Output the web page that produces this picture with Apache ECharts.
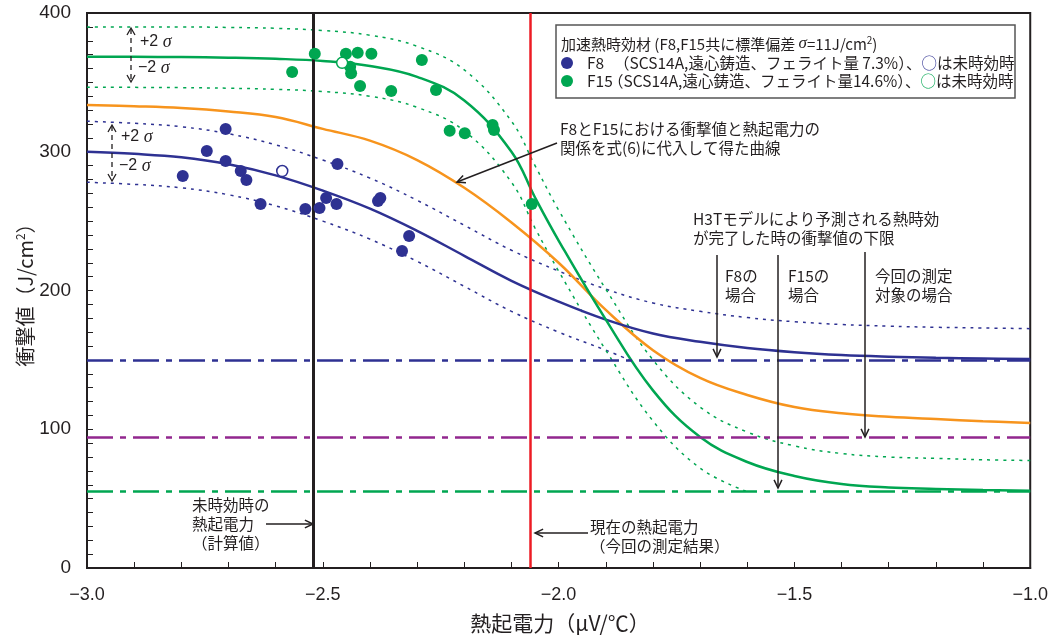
<!DOCTYPE html>
<html><head><meta charset="utf-8">
<script src="https://cdn.jsdelivr.net/npm/echarts@6/dist/echarts.min.js"></script>
<style>html,body{margin:0;padding:0;background:#fff}#c{width:1051px;height:638px}</style>
</head><body><div id="c"></div>
<script>
// ---- data ----
const xs = [-3.0,-2.9,-2.8,-2.7,-2.6,-2.5,-2.4,-2.3,-2.2,-2.1,-2.0,-1.9,-1.8,-1.7,-1.6,-1.5,-1.4,-1.3,-1.2,-1.1,-1.0];
const blueMean  = [300,298.5,296,291,283,272,259,243,225,207,192,179,169,163,158.5,155.5,153.5,152.3,151.5,151,150.6];
const blueUpper = [322,320.5,318,313,305,294,281,265,247,229,214,201,191,185,180.5,177.5,175.5,174.3,173.5,173,172.5];
const blueLowerX = [-3.0,-2.9,-2.8,-2.7,-2.6,-2.5,-2.4,-2.3,-2.2,-2.1,-2.0,-1.9,-1.85];
const blueLower = [278,276.5,274,269,261,250,237,221,203,185,170,157,150];
const greenX = [-3.0,-2.9,-2.8,-2.7,-2.6,-2.5,-2.4,-2.3,-2.2,-2.1,-2.05,-2.0,-1.9,-1.8,-1.7,-1.6,-1.5,-1.4,-1.3,-1.2,-1.1,-1.0];
const greenMean  = [368.5,368.4,368.2,367.8,367,365.4,361.8,354,337,300,267,236,179,128,94.4,76.4,66.3,60.5,58,57,56.2,55.7];
const greenUpper = [390,390,390,389.6,389,387.4,384,376,359,322,290,258,201,150,116,98,88,82.5,80,79,78,77.5];
const greenLowerX = [-3.0,-2.9,-2.8,-2.7,-2.6,-2.5,-2.4,-2.3,-2.2,-2.1,-2.05,-2.0,-1.9,-1.8,-1.7,-1.6];
const greenLower = [346.5,346.4,346.2,345.8,345,343.4,340,332,315,278,245,214,157,106,72,55];
const orangeCurve = [333.7,332.8,331.5,329,325,316.5,308,294,274,249,220,186,157,137,124.7,116,111.5,109,107.3,105.8,104.5];
const f8X = [-2.797,-2.746,-2.706,-2.706,-2.674,-2.662,-2.632,-2.537,-2.507,-2.493,-2.471,-2.469,-2.383,-2.378,-2.317,-2.332];
const f8Y = [282.5,300.5,316.4,293.3,286.1,279.6,262.3,258.7,259.5,266.7,262.3,291.2,264.5,266.7,239.3,228.5];
const f8UnagedX = [-2.586];
const f8UnagedY = [286.1];
const f15X = [-2.565,-2.517,-2.451,-2.426,-2.397,-2.442,-2.440,-2.421,-2.355,-2.290,-2.260,-2.231,-2.199,-2.140,-2.137,-2.057];
const f15Y = [357.5,370.7,370.7,371.4,370.7,361.3,356.5,347.4,343.8,366.1,344.5,315.2,313.3,319.3,315.7,262.3];
const f15UnagedX = [-2.459];
const f15UnagedY = [364.1];
const vLines = [-2.52, -2.06];       // black: unaged (calc), red: current
const hLines = [150, 94, 55];        // lower limits: F8, this case, F15
const xTicks = {min:-3, max:-1, interval:0.5};
const yTicks = {min:0, max:400, interval:100};

// ---- style ----
const C = {blue:'#2e3192', green:'#00a651', orange:'#f7941d', red:'#ed1c24', black:'#231f20', purple:'#92278f'};
const JP = '"Noto Sans CJK JP", "Noto Sans", sans-serif';
const pairs = (a,b)=>a.map((x,i)=>[x,b[i]]);

function lineSeries(x, y, color, width, type, z){
  return {type:'line', data:pairs(x,y), smooth:0.4, showSymbol:false, symbol:'none', silent:true, z:z||2,
    lineStyle:{color:color, width:width, type:type||'solid'}};
}
function arrowG(x1,y1,x2,y2,opt){
  opt = opt||{};
  const ang = Math.atan2(y2-y1,x2-x1), L=opt.head||9, w=opt.hw||0.45;
  const p1=[x2-L*Math.cos(ang-w), y2-L*Math.sin(ang-w)], p2=[x2-L*Math.cos(ang+w), y2-L*Math.sin(ang+w)];
  const st={stroke:opt.color||C.black, lineWidth:opt.lw||1.5, lineDash:opt.dash||null, fill:null};
  return [
    {type:'line', shape:{x1:x1,y1:y1,x2:x2,y2:y2}, style:st, z:50},
    {type:'polyline', shape:{points:[p1,[x2,y2],p2]}, style:{stroke:opt.color||C.black, lineWidth:opt.lw||1.5, fill:null}, z:50}
  ];
}
function txt(x,y,t,opt){
  opt=opt||{};
  return {type:'text', x:x, y:y, z:60, style:Object.assign({text:t, font:(opt.fs||15.5)+'px '+JP, fill:C.black,
    textVerticalAlign:'middle', textAlign:opt.align||'left', lineHeight:opt.lh||19}, opt.extra||{})};
}
function sigmaArrow(x,yt,yb,yp,ym){
  const g=[];
  const rich={a:{fontSize:16,fontFamily:'Liberation Sans',fill:C.black},s:{fontSize:18,fontStyle:'italic',fontFamily:'Liberation Serif',fill:C.black}};
  g.push({type:'line', shape:{x1:x,y1:yt+1,x2:x,y2:yb-1}, style:{stroke:C.black,lineWidth:1.3,lineDash:[5,4]}, z:50});
  g.push({type:'polyline', shape:{points:[[x-4,yt+7],[x,yt],[x+4,yt+7]]}, style:{stroke:C.black,lineWidth:1.3,fill:null}, z:50});
  g.push({type:'polyline', shape:{points:[[x-4,yb-7],[x,yb],[x+4,yb-7]]}, style:{stroke:C.black,lineWidth:1.3,fill:null}, z:50});
  g.push({type:'text', x:x+9, y:yp, z:60, style:{rich:rich, text:'{a|+2 }{s|σ}', textVerticalAlign:'middle'}});
  g.push({type:'text', x:x+7, y:ym, z:60, style:{rich:rich, text:'{a|−2 }{s|σ}', textVerticalAlign:'middle'}});
  return g;
}

const chart = echarts.init(document.getElementById('c'), null, {renderer:'canvas'});
const graphics = [].concat(
  sigmaArrow(131, 28, 82, 42, 68),
  sigmaArrow(112, 125, 181, 137, 166),
  // legend box
  [{type:'rect', shape:{x:556,y:25,width:459,height:73}, style:{fill:'#fff', stroke:'#555', lineWidth:1.5}, z:40}],
  [{type:'text', x:561, y:44, z:60, style:{text:'{a|加速熱時効材 (F8,F15共に標準偏差 }{s|σ}{a|=11J/cm}{p|2}{a|)}', textVerticalAlign:'middle',
     rich:{a:{fontSize:15,fontFamily:JP,fill:C.black}, s:{fontSize:17,fontStyle:'italic',fontFamily:'Liberation Serif',fill:C.black}, p:{fontSize:10,fontFamily:JP,fill:C.black,verticalAlign:'top',padding:[0,0,8,0]}}}}],
  [{type:'circle', shape:{cx:567,cy:63,r:6}, style:{fill:C.blue}, z:60},
   {type:'circle', shape:{cx:567,cy:81,r:6}, style:{fill:C.green}, z:60}],
  [txt(587,63,'F8'), txt(587,81,'F15'),
   {type:'text', x:614, y:63, z:60, style:{text:'{a|（SCS14A,遠心鋳造、フェライト量 7.3%）、}{o|○}{a|は未時効時}', textVerticalAlign:'middle',
     rich:{a:{fontSize:15.5,fontFamily:JP,fill:C.black}, o:{fontSize:15.5,fontFamily:JP,fill:C.blue}}}},
   {type:'text', x:608, y:81, z:60, style:{text:'{a|（SCS14A,遠心鋳造、フェライト量14.6%）、}{o|○}{a|は未時効時}', textVerticalAlign:'middle',
     rich:{a:{fontSize:15.5,fontFamily:JP,fill:C.black}, o:{fontSize:15.5,fontFamily:JP,fill:C.green}}}}],
  // curve annotation
  [txt(560,139,'F8とF15における衝撃値と熱起電力の\n関係を式(6)に代入して得た曲線')],
  arrowG(557,143,457,182),
  [txt(693,229,'H3Tモデルにより予測される熱時効\nが完了した時の衝撃値の下限')],
  [txt(725,286,'F8の\n場合'), txt(788,286,'F15の\n場合'), txt(875,286,'今回の測定\n対象の場合')],
  arrowG(717,255,717,357), arrowG(778,255,778,488), arrowG(865,252,865,437),
  [txt(192,524,'未時効時の\n熱起電力\n（計算値）')],
  arrowG(266,524,313,524),
  [txt(590,537,'現在の熱起電力\n（今回の測定結果）')],
  arrowG(588,533,535,533),
  // axis names
  [{type:'text', x:25, y:290, rotation:Math.PI/2, z:60, style:{text:'{a|衝撃値（J/cm}{p|2}{a|）}', textAlign:'center', textVerticalAlign:'middle',
     rich:{a:{fontSize:20,fontFamily:JP,fill:C.black}, p:{fontSize:12,fontFamily:JP,fill:C.black,verticalAlign:'top',padding:[0,0,10,0]}}}}],
  [{type:'text', x:560, y:623, z:60, style:{text:'熱起電力（μV/℃）', font:'21px '+JP, fill:C.black, textAlign:'center', textVerticalAlign:'middle'}}]
);

const option = {
  backgroundColor:'#fff',
  animation:false,
  grid:{left:87, right:18, top:13, bottom:70, show:true, borderColor:C.black, borderWidth:2, backgroundColor:'transparent'},
  xAxis:{type:'value', min:xTicks.min, max:xTicks.max, interval:xTicks.interval,
    axisLine:{lineStyle:{color:C.black,width:2}}, splitLine:{show:false},
    axisTick:{inside:true,length:6,lineStyle:{color:C.black,width:1}},
    minorTick:{show:true,splitNumber:5,length:6,lineStyle:{color:C.black,width:1}},
    axisLabel:{margin:18, fontSize:18, color:C.black, fontFamily:'"Liberation Sans Narrow", "Liberation Sans", sans-serif',
      formatter:v=>(v<0?'−':'')+Math.abs(v).toFixed(1)}},
  yAxis:{type:'value', min:yTicks.min, max:yTicks.max, interval:yTicks.interval,
    axisLine:{show:true,lineStyle:{color:C.black,width:2}}, splitLine:{show:false},
    axisTick:{show:true,inside:true,length:6,lineStyle:{color:C.black,width:1}},
    minorTick:{show:true,splitNumber:10,length:6,lineStyle:{color:C.black,width:1}},
    axisLabel:{margin:16, fontSize:19, color:C.black, fontFamily:'"Liberation Sans", sans-serif'}},
  series:[
    {type:'line', data:[], silent:true, z:1,
      markLine:{silent:true, symbol:'none', label:{show:false}, animation:false,
        data:[
          {yAxis:hLines[0], lineStyle:{color:C.blue, width:2.5, type:[26,7,6,7]}},
          {yAxis:hLines[1], lineStyle:{color:C.purple, width:2.5, type:[26,7,6,7]}},
          {yAxis:hLines[2], lineStyle:{color:C.green, width:2.5, type:[26,7,6,7]}},
          {xAxis:vLines[0], lineStyle:{color:C.black, width:3, type:'solid'}},
          {xAxis:vLines[1], lineStyle:{color:C.red, width:2.5, type:'solid'}}
        ]}},
    lineSeries(xs, blueUpper, C.blue, 1.5, [3,5]),
    lineSeries(blueLowerX, blueLower, C.blue, 1.5, [3,5]),
    lineSeries(greenX, greenUpper, C.green, 1.5, [3,5]),
    lineSeries(greenLowerX, greenLower, C.green, 1.5, [3,5]),
    lineSeries(xs, orangeCurve, C.orange, 2.5, 'solid', 3),
    lineSeries(xs, blueMean, C.blue, 2.5, 'solid', 3),
    lineSeries(greenX, greenMean, C.green, 2.5, 'solid', 3),
    {type:'scatter', data:pairs(f8X,f8Y), symbolSize:12, itemStyle:{color:C.blue, opacity:1}, z:10, silent:true},
    {type:'scatter', data:pairs(f8UnagedX,f8UnagedY), symbolSize:11, itemStyle:{color:'#fff', borderColor:C.blue, borderWidth:1.5, opacity:1}, z:10, silent:true},
    {type:'scatter', data:pairs(f15X,f15Y), symbolSize:12, itemStyle:{color:C.green, opacity:1}, z:10, silent:true},
    {type:'scatter', data:pairs(f15UnagedX,f15UnagedY), symbolSize:11, itemStyle:{color:'#fff', borderColor:C.green, borderWidth:1.5, opacity:1}, z:10, silent:true}
  ],
  graphic:{elements:graphics}
};
chart.setOption(option);
</script></body></html>
